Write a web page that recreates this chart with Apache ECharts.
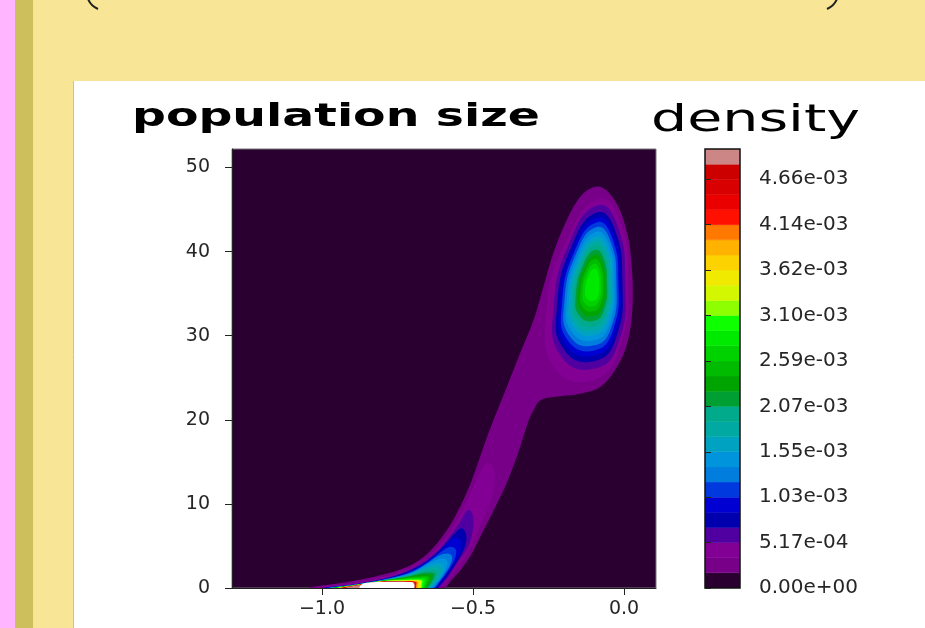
<!DOCTYPE html>
<html>
<head>
<meta charset="utf-8">
<script src="https://cdn.jsdelivr.net/npm/echarts@6.0.0/dist/echarts.min.js"></script>
<style>
html,body{margin:0;padding:0;background:#F9E596;}
#chart{width:925px;height:628px;}
</style>
</head>
<body>
<div id="chart"></div>
<script>
// ---------- data ----------
const xTickValues = [-1.0, -0.5, 0.0];
const xTickLabels = ['\u22121.0', '\u22120.5', '0.0'];
const yTickValues = [0, 10, 20, 30, 40, 50];

// contour levels of the density (29 filled bands)
const densityLevels = [0, 0.0001724, 0.0003449, 0.0005173, 0.0006898, 0.0008622, 0.0010347, 0.0012071,
  0.0013796, 0.0015520, 0.0017244, 0.0018969, 0.0020693, 0.0022418, 0.0024142, 0.0025867, 0.0027591,
  0.0029316, 0.0031040, 0.0032764, 0.0034489, 0.0036213, 0.0037938, 0.0039662, 0.0041387, 0.0043111,
  0.0044836, 0.0046560, 0.0048284, 0.0050009];
const densityTickValues = [0, 0.0005173, 0.0010347, 0.0015520, 0.0020693, 0.0025867, 0.0031040, 0.0036213, 0.0041387, 0.0046560];
const densityTickLabels = ['0.00e+00', '5.17e-04', '1.03e-03', '1.55e-03', '2.07e-03', '2.59e-03', '3.10e-03', '3.62e-03', '4.14e-03', '4.66e-03'];

// level-1 contour: lower peak tail, ridge and upper blob (x, population size)
const ridgeOutline = [[-1.039,0],[-0.917,0.71],[-0.807,1.51],[-0.719,2.50],[-0.664,3.69],[-0.620,5.27],[-0.587,6.86],
  [-0.558,8.6],[-0.530,10.6],[-0.504,12.8],[-0.449,18.4],[-0.388,23.9],[-0.344,27.9],[-0.300,31.8],[-0.267,35.8],
  [-0.234,39.8],[-0.190,43.7],[-0.135,46.9],[-0.079,47.7],[-0.024,45.7],[0.012,42.0],[0.025,38.5],[0.029,35.0],
  [0.024,31.6],[0.006,28.5],[-0.030,25.9],[-0.079,23.9],[-0.146,23.1],[-0.234,22.7],[-0.278,22.3],[-0.300,21.1],
  [-0.316,19.9],[-0.355,15.6],[-0.394,12.0],[-0.432,9.2],[-0.470,6.5],[-0.505,4.0],[-0.540,2.2],[-0.572,0.9],[-0.598,0]];

// level-2 contour in the lower ridge
const ridgeInner = [[-1.02,0],[-0.90,0.55],[-0.80,1.3],[-0.715,2.3],[-0.655,3.5],[-0.612,5.0],[-0.578,6.6],[-0.548,8.4],
  [-0.52,10.4],[-0.493,12.4],[-0.468,14.2],[-0.45,14.9],[-0.432,14.2],[-0.43,12.0],[-0.45,9.5],[-0.48,7.0],
  [-0.515,4.4],[-0.55,2.4],[-0.58,1.0],[-0.607,0]];

// upper blob contours, levels 2 .. 16
const blobRings = [
  [[-0.079,46.3],[-0.015,43.7],[0.014,36.6],[-0.011,29.1],[-0.090,24.9],[-0.223,25.9],[-0.256,33.0],[-0.184,41.8]],
  [[-0.0850,45.52],[-0.0241,43.34],[0.0043,36.60],[-0.0189,29.07],[-0.0959,26.09],[-0.2061,27.47],[-0.2339,33.03],[-0.1730,41.75]],
  [[-0.0866,44.67],[-0.0312,42.69],[-0.0053,36.55],[-0.0264,29.70],[-0.0965,27.00],[-0.1968,28.25],[-0.2221,33.31],[-0.1667,41.24]],
  [[-0.0877,44.06],[-0.0363,42.22],[-0.0123,36.52],[-0.0318,30.16],[-0.0970,27.65],[-0.1900,28.81],[-0.2135,33.51],[-0.1621,40.87]],
  [[-0.0888,43.50],[-0.0410,41.79],[-0.0187,36.49],[-0.0369,30.58],[-0.0974,28.25],[-0.1838,29.33],[-0.2056,33.69],[-0.1579,40.54]],
  [[-0.0898,42.93],[-0.0457,41.35],[-0.0251,36.47],[-0.0419,31.01],[-0.0978,28.85],[-0.1776,29.85],[-0.1978,33.88],[-0.1536,40.20]],
  [[-0.0909,42.37],[-0.0504,40.92],[-0.0315,36.44],[-0.0469,31.43],[-0.0981,29.45],[-0.1714,30.37],[-0.1899,34.06],[-0.1494,39.86]],
  [[-0.0919,41.81],[-0.0551,40.49],[-0.0379,36.41],[-0.0519,31.85],[-0.0985,30.05],[-0.1652,30.89],[-0.1820,34.25],[-0.1452,39.52]],
  [[-0.0929,41.29],[-0.0594,40.09],[-0.0438,36.38],[-0.0565,32.24],[-0.0989,30.61],[-0.1595,31.36],[-0.1748,34.42],[-0.1413,39.22]],
  [[-0.0939,40.77],[-0.0637,39.69],[-0.0497,36.36],[-0.0611,32.63],[-0.0993,31.16],[-0.1538,31.84],[-0.1675,34.59],[-0.1374,38.90]],
  [[-0.0949,40.21],[-0.0684,39.26],[-0.0561,36.33],[-0.0661,33.05],[-0.0997,31.76],[-0.1476,32.36],[-0.1597,34.78],[-0.1332,38.57]],
  [[-0.0960,39.64],[-0.0731,38.83],[-0.0625,36.30],[-0.0712,33.48],[-0.1001,32.36],[-0.1414,32.88],[-0.1518,34.96],[-0.1290,38.23]],
  [[-0.0969,39.13],[-0.0775,38.43],[-0.0683,36.27],[-0.0758,33.86],[-0.1004,32.91],[-0.1357,33.35],[-0.1446,35.13],[-0.1251,37.92]],
  [[-0.0980,38.56],[-0.0822,38.00],[-0.0748,36.24],[-0.0808,34.29],[-0.1008,33.51],[-0.1295,33.87],[-0.1367,35.32],[-0.1209,37.58]],
  [[-0.0991,37.95],[-0.0873,37.53],[-0.0817,36.21],[-0.0862,34.75],[-0.1013,34.17],[-0.1227,34.43],[-0.1282,35.53],[-0.1163,37.22]]
];

// lower peak contours, levels 3 .. 28
const peakRings = [
  [[-1.00,0],[-0.90,0.42],[-0.80,1.1],[-0.72,2.0],[-0.665,3.1],[-0.62,4.3],[-0.58,6.0],[-0.54,8.0],[-0.525,9.0],[-0.512,9.3],[-0.50,8.6],[-0.50,7.0],[-0.515,5.0],[-0.548,3.2],[-0.578,1.5],[-0.603,0.4],[-0.615,0]],
  [[-0.99,0],[-0.90,0.4],[-0.80,1.05],[-0.72,1.9],[-0.665,2.9],[-0.625,4.0],[-0.585,5.5],[-0.558,6.6],[-0.537,7.1],[-0.522,6.3],[-0.528,4.8],[-0.555,3.0],[-0.585,1.4],[-0.608,0.4],[-0.62,0]],
  [[-0.985,0],[-0.90,0.38],[-0.80,1.0],[-0.72,1.8],[-0.668,2.75],[-0.628,3.8],[-0.595,4.9],[-0.572,5.7],[-0.553,6.0],[-0.538,5.4],[-0.545,4.0],[-0.572,2.4],[-0.598,1.1],[-0.615,0.35],[-0.625,0]],
  [[-0.98,0],[-0.90,0.36],[-0.80,0.97],[-0.72,1.72],[-0.67,2.6],[-0.634,3.5],[-0.604,4.35],[-0.585,4.8],[-0.57,4.9],[-0.556,4.5],[-0.562,3.3],[-0.585,1.9],[-0.608,0.8],[-0.63,0]],
  [[-0.975,0],[-0.90,0.35],[-0.80,0.95],[-0.72,1.65],[-0.673,2.45],[-0.64,3.2],[-0.612,3.85],[-0.585,4.1],[-0.57,3.8],[-0.575,2.8],[-0.595,1.6],[-0.616,0.6],[-0.634,0]],
  [[-0.97,0],[-0.90,0.34],[-0.80,0.93],[-0.72,1.58],[-0.676,2.3],[-0.645,2.95],[-0.618,3.4],[-0.598,3.5],[-0.585,3.2],[-0.588,2.35],[-0.603,1.4],[-0.622,0.55],[-0.638,0]],
  [[-0.968,0],[-0.90,0.33],[-0.80,0.91],[-0.72,1.52],[-0.679,2.1],[-0.65,2.6],[-0.625,2.9],[-0.61,2.95],[-0.597,2.7],[-0.599,2.0],[-0.61,1.2],[-0.627,0.5],[-0.642,0]],
  [[-0.965,0],[-0.90,0.32],[-0.80,0.9],[-0.72,1.46],[-0.682,1.95],[-0.654,2.3],[-0.634,2.48],[-0.62,2.5],[-0.607,2.3],[-0.609,1.7],[-0.618,1.05],[-0.632,0.45],[-0.646,0]],
  [[-0.963,0],[-0.90,0.31],[-0.80,0.88],[-0.72,1.4],[-0.685,1.8],[-0.658,2.05],[-0.643,2.14],[-0.63,2.15],[-0.617,1.97],[-0.619,1.45],[-0.626,0.9],[-0.638,0.4],[-0.65,0]],
  [[-0.96,0],[-0.90,0.3],[-0.80,0.87],[-0.72,1.34],[-0.688,1.62],[-0.662,1.8],[-0.64,1.85],[-0.627,1.7],[-0.629,1.25],[-0.635,0.8],[-0.644,0.35],[-0.653,0]],
  [[-0.958,0],[-0.90,0.29],[-0.80,0.86],[-0.72,1.28],[-0.69,1.48],[-0.667,1.58],[-0.648,1.6],[-0.636,1.46],[-0.638,1.1],[-0.643,0.7],[-0.65,0.3],[-0.657,0]],
  [[-0.955,0],[-0.90,0.28],[-0.80,0.85],[-0.72,1.22],[-0.693,1.35],[-0.672,1.4],[-0.655,1.4],[-0.644,1.28],[-0.645,0.95],[-0.649,0.6],[-0.654,0.25],[-0.66,0]],
  [[-0.953,0],[-0.90,0.27],[-0.80,0.84],[-0.72,1.16],[-0.695,1.23],[-0.675,1.26],[-0.662,1.25],[-0.651,1.12],[-0.652,0.85],[-0.656,0.5],[-0.663,0]],
  [[-0.95,0],[-0.90,0.27],[-0.80,0.83],[-0.72,1.1],[-0.69,1.13],[-0.668,1.12],[-0.657,1.0],[-0.658,0.75],[-0.661,0.45],[-0.666,0]],
  [[-0.948,0],[-0.90,0.26],[-0.80,0.82],[-0.72,1.02],[-0.675,1.03],[-0.664,0.9],[-0.665,0.6],[-0.67,0]],
  [[-0.946,0],[-0.90,0.26],[-0.80,0.81],[-0.72,0.96],[-0.68,0.97],[-0.668,0.85],[-0.669,0.5],[-0.673,0]],
  [[-0.944,0],[-0.90,0.25],[-0.80,0.8],[-0.72,0.91],[-0.685,0.92],[-0.672,0.8],[-0.673,0.45],[-0.676,0]],
  [[-0.942,0],[-0.90,0.25],[-0.80,0.79],[-0.72,0.87],[-0.69,0.88],[-0.676,0.77],[-0.677,0.4],[-0.679,0]],
  [[-0.94,0],[-0.90,0.24],[-0.80,0.78],[-0.72,0.84],[-0.693,0.85],[-0.679,0.74],[-0.68,0.4],[-0.682,0]],
  [[-0.938,0],[-0.90,0.24],[-0.80,0.77],[-0.72,0.81],[-0.696,0.82],[-0.682,0.72],[-0.683,0.35],[-0.685,0]],
  [[-0.935,0],[-0.90,0.23],[-0.80,0.76],[-0.72,0.79],[-0.699,0.8],[-0.685,0.7],[-0.686,0.35],[-0.688,0]],
  [[-0.933,0],[-0.90,0.23],[-0.80,0.75],[-0.72,0.77],[-0.702,0.78],[-0.688,0.68],[-0.689,0.3],[-0.69,0]],
  [[-0.93,0],[-0.90,0.22],[-0.80,0.74],[-0.72,0.755],[-0.705,0.76],[-0.69,0.66],[-0.691,0.3],[-0.692,0]],
  [[-0.928,0],[-0.90,0.22],[-0.80,0.735],[-0.72,0.74],[-0.708,0.745],[-0.692,0.65],[-0.693,0.3],[-0.694,0]],
  [[-0.925,0],[-0.90,0.21],[-0.80,0.725],[-0.71,0.73],[-0.694,0.64],[-0.695,0.3],[-0.695,0]],
  [[-0.92,0],[-0.90,0.21],[-0.80,0.715],[-0.712,0.72],[-0.695,0.63],[-0.696,0]]
];

// region above the highest level (left unfilled)
const peakCore = [[-0.875,0],[-0.865,0.5],[-0.84,0.66],[-0.80,0.7],[-0.715,0.71],[-0.698,0.62],[-0.697,0]];

// ---------- styles ----------
const bandColors = ['#29002F','#780089','#830094','#5000A0','#0000AF','#0000D2','#0039DD','#007DDD','#0094DD',
  '#00A2C1','#00AAA2','#00AA8A','#009F34','#00A400','#00BB00','#00D200','#00EA00','#0DFF00','#8EFF00','#D2F700',
  '#F0E900','#FCD200','#FFB200','#FF7900','#FF1000','#EB0000','#D80000','#CD0000','#CC8686'];
const coreColor = '#FFFFFF';
const tickFont = 'DejaVu Sans';
const tickColor = '#262626';

// ---------- build shapes (drawn lowest level first) ----------
const shapes = [{level: 1, pts: ridgeOutline, smooth: 0.35}];
blobRings.forEach((p, i) => shapes.push({level: i + 2, pts: p, smooth: 0.5}));
shapes.push({level: 2, pts: ridgeInner, smooth: 0.35});
peakRings.forEach((p, i) => shapes.push({level: i + 3, pts: p, smooth: 0.35}));
shapes.push({level: 29, pts: peakCore, smooth: 0.3});

function tickLabel(values, labels, v) {
  for (let i = 0; i < values.length; i++) {
    if (Math.abs(values[i] - v) < 1e-9 + Math.abs(values[i]) * 1e-6) return labels[i];
  }
  return '';
}

const chart = echarts.init(document.getElementById('chart'));
chart.setOption({
  animation: false,
  backgroundColor: '#F9E596',
  graphic: [
    {type: 'rect', z: -10, shape: {x: 0, y: 0, width: 15, height: 628}, style: {fill: '#FFB5FF'}},
    {type: 'rect', z: -10, shape: {x: 15, y: 0, width: 18, height: 628}, style: {fill: '#CDC05C'}},
    {type: 'rect', z: -10, shape: {x: 73, y: 81, width: 852, height: 547}, style: {fill: '#FFFFFF'}},
    {type: 'line', z: -9, shape: {x1: 73.5, y1: 81, x2: 73.5, y2: 628}, style: {stroke: '#C9C2A6', lineWidth: 1}},
    {type: 'bezierCurve', z: 5, shape: {x1: 88, y1: -1, cpx1: 91, cpy1: 6, x2: 98, y2: 9}, style: {stroke: '#222', lineWidth: 2, fill: null}},
    {type: 'bezierCurve', z: 5, shape: {x1: 837, y1: -1, cpx1: 834, cpy1: 6, x2: 827, y2: 9}, style: {stroke: '#222', lineWidth: 2, fill: null}},
    {type: 'text', z: 10, x: 132, y: 118, scaleX: 1.48,
      style: {text: 'population size', fontFamily: 'DejaVu Sans', fontWeight: 'bold', fontSize: 32, fill: '#000', verticalAlign: 'middle', textVerticalAlign: 'middle'}},
    {type: 'text', z: 10, x: 651, y: 121, scaleX: 1.5,
      style: {text: 'density', fontFamily: 'DejaVu Sans', fontSize: 38, fill: '#000', verticalAlign: 'middle', textVerticalAlign: 'middle'}}
  ],
  grid: [
    {left: 232, top: 149, width: 424, height: 439, show: true, backgroundColor: bandColors[0],
      borderColor: '#777', borderWidth: 1, containLabel: false, outerBoundsMode: 'none'},
    {left: 705, top: 149, width: 35, height: 439, show: false, containLabel: false, outerBoundsMode: 'none'}
  ],
  xAxis: [
    {type: 'value', gridIndex: 0, min: -1.298, max: 0.106, z: 5,
      axisLine: {show: true, onZero: false, lineStyle: {color: '#222', width: 1}},
      axisTick: {show: true, length: 7, customValues: xTickValues, lineStyle: {color: '#222'}},
      axisLabel: {customValues: xTickValues, margin: 12, fontSize: 19, fontFamily: tickFont, color: tickColor,
        formatter: v => tickLabel(xTickValues, xTickLabels, v)},
      splitLine: {show: false}},
    {type: 'value', gridIndex: 1, min: 0, max: 1, show: false}
  ],
  yAxis: [
    {type: 'value', gridIndex: 0, min: 0, max: 52.2, z: 5,
      axisLine: {show: true, onZero: false, lineStyle: {color: '#222', width: 1}},
      axisTick: {show: true, length: 7, customValues: yTickValues, lineStyle: {color: '#222'}},
      axisLabel: {customValues: yTickValues, margin: 22, fontSize: 19, fontFamily: tickFont, color: tickColor},
      splitLine: {show: false}},
    {type: 'value', gridIndex: 1, position: 'right', min: 0, max: densityLevels[densityLevels.length - 1], z: 5,
      axisLine: {show: false},
      axisTick: {show: true, length: 6, customValues: densityTickValues, lineStyle: {color: '#222'}},
      axisLabel: {customValues: densityTickValues, margin: 19, fontSize: 20, fontFamily: tickFont, color: tickColor,
        formatter: v => tickLabel(densityTickValues, densityTickLabels, v)},
      splitLine: {show: false}}
  ],
  series: [
    {
      type: 'custom', name: 'density', xAxisIndex: 0, yAxisIndex: 0, clip: true, silent: true,
      data: shapes.map(s => s.pts[0]),
      renderItem: function (params, api) {
        const s = shapes[params.dataIndex];
        const pts = s.pts.map(p => api.coord(p));
        return {
          type: 'polygon',
          shape: {points: pts, smooth: s.smooth},
          style: {fill: s.level > 28 ? coreColor : bandColors[s.level]}
        };
      }
    },
    {
      type: 'custom', name: 'colorbar', xAxisIndex: 1, yAxisIndex: 1, clip: true, silent: true,
      data: bandColors.map((c, i) => [0, densityLevels[i], densityLevels[i + 1]]),
      renderItem: function (params, api) {
        const p0 = api.coord([0, api.value(2)]);
        const p1 = api.coord([1, api.value(1)]);
        const c = bandColors[params.dataIndex];
        return {type: 'rect', shape: {x: p0[0], y: p0[1], width: p1[0] - p0[0], height: p1[1] - p0[1]},
          style: {fill: c, stroke: c, lineWidth: 0.5}};
      }
    },
    {
      type: 'custom', name: 'colorbar frame', xAxisIndex: 1, yAxisIndex: 1, clip: false, silent: true, z: 4,
      data: [[0, densityLevels[0], densityLevels[densityLevels.length - 1]]],
      renderItem: function (params, api) {
        const p0 = api.coord([0, api.value(2)]);
        const p1 = api.coord([1, api.value(1)]);
        return {type: 'rect', shape: {x: p0[0], y: p0[1], width: p1[0] - p0[0], height: p1[1] - p0[1]},
          style: {fill: null, stroke: '#111', lineWidth: 1.5}};
      }
    }
  ]
});
</script>
</body>
</html>
